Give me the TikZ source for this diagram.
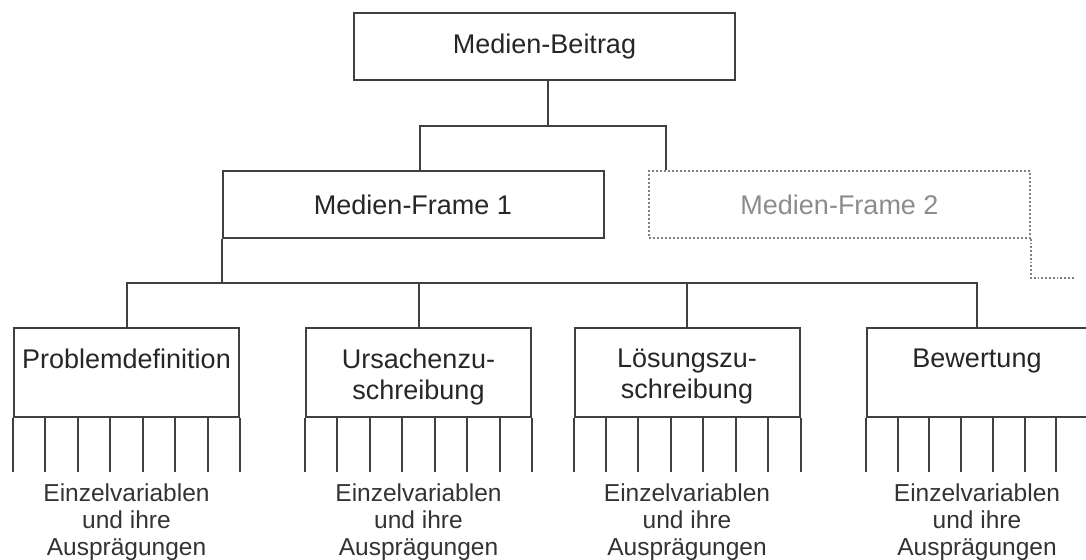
\documentclass[tikz,border=0pt]{standalone}
\usepackage{fontspec}
\setmainfont{Liberation Sans}
\usetikzlibrary{positioning,calc}

\tikzset{
  conn/.style={draw=black!75,line width=1pt},
  framebox/.style={conn,rectangle,minimum width=190.5pt,minimum height=33.5pt,inner sep=0pt,
    text=black!85,font=\fontsize{13.5}{15.5}\selectfont},
  ghostbox/.style={framebox,draw=black!50,densely dotted,line width=0.9pt,text=black!45},
  catbox/.style={conn,rectangle,minimum width=112.5pt,minimum height=44.5pt,inner sep=0pt},
  cattext/.style={anchor=north,inner sep=0pt,align=center,text=black!85,
    font=\fontsize{13.5}{15.5}\selectfont},
  varlabel/.style={anchor=north,inner sep=0pt,align=center,text=black!80,
    font=\fontsize{12.25}{13.5}\selectfont}
}

\begin{document}
\begin{tikzpicture}[x=0.5pt,y=-0.5pt]
    \useasboundingbox (0,0) rectangle (1086,560);
    \clip (0,0) rectangle (1086,560);
    % Beitrag und Frames
    \node[framebox] (beitrag) at (544.5,46.5) {Medien-Beitrag};
    \node[framebox] (frame1) at (413,204.5) {Medien-Frame 1};
    \node[ghostbox] (frame2) at (839.5,204.5) {Medien-Frame 2};
    \coordinate (top-split) at ($(beitrag.south)+(3.5,45)$);
    \draw[conn] ([xshift=1.75pt]beitrag.south) -- (top-split);
    \draw[conn] ([xshift=3.5pt]frame1.north) |- (top-split) -| ([xshift=-86.75pt]frame2.north);
    \coordinate (frame3-stub) at ($(frame2.south east)+(44,39)$);
    \draw[draw=black!50,densely dotted,line width=0.9pt] (frame2.south east) |- (frame3-stub);
    % Frame-Elemente
    \node[catbox] (problem) at (126.5,373) {};
    \node[catbox] (ursache) at (418.5,373) {};
    \node[catbox] (loesung) at (687,373) {};
    \node[catbox,minimum width=110pt] (bewertung) at (977,373) {};
    \node[cattext] (problem-t) at ($(problem.north)+(0,21)$) {Problemdefinition};
    \node[cattext] (ursache-t) at ($(ursache.north)+(0,21)$) {Ursachenzu-\\schreibung};
    \node[cattext] (loesung-t) at ($(loesung.north)+(0,21)$) {Lösungszu-\\schreibung};
    \node[cattext] (bewertung-t) at ($(bewertung.north)+(0,21)$) {Bewertung};
    \coordinate (mid-split) at ($(frame1.south west)+(0,44)$);
    \draw[conn] (frame1.south west) -- (mid-split);
    \draw[conn] (problem.north) |- (bewertung.north |- mid-split) -- (bewertung.north);
    \foreach \b in {ursache,loesung}
      \draw[conn] (\b.north) -- (\b.north |- mid-split);
    % Einzelvariablen
    \foreach \b in {problem,ursache,loesung,bewertung} {
      \foreach \i in {0,...,7}
        \draw[conn] ($(\b.south west)!\i/7!(\b.south east)$) -- ++(0,54);
      \node[varlabel] (\b-v) at ($(\b.south)+(0,65)$) {Einzelvariablen\\und ihre\\Ausprägungen};
    }
\end{tikzpicture}
\end{document}
